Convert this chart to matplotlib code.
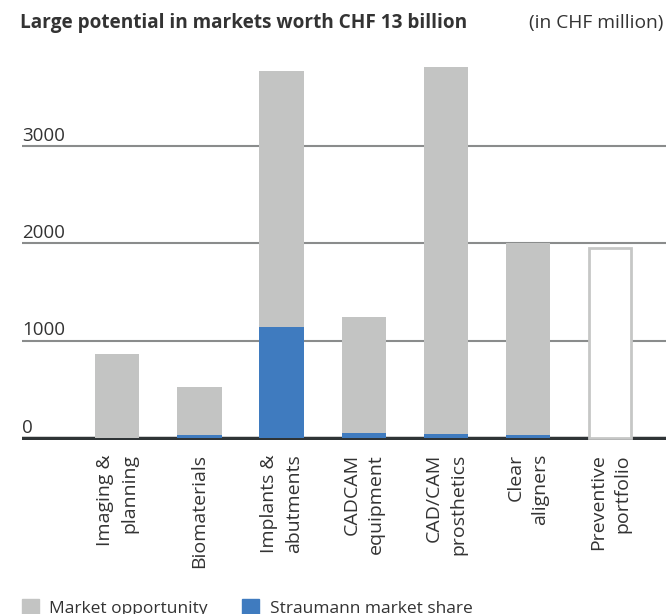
import numpy as np
import matplotlib
matplotlib.use('Agg')
from matplotlib import pyplot as plt
from matplotlib.patches import Patch

categories = ['Imaging &\nplanning', 'Biomaterials', 'Implants &\nabutments', 'CADCAM\nequipment',
              'CAD/CAM\nprosthetics', 'Clear\naligners', 'Preventive\nportfolio']
market = [865, 525, 3770, 1245, 3810, 2000, 1950]
share = [0, 35, 1145, 55, 45, 35, 0]
outline_only = [False, False, False, False, False, False, True]
yticks = [0, 1000, 2000, 3000]

grey = '#c3c4c3'
blue = '#3f7bbf'
txt = '#333333'

plt.rcParams['font.family'] = ['Open Sans', 'DejaVu Sans']

fig = plt.figure(figsize=(6.66, 6.14), dpi=100)
# zero line at y=438 px, axis top around y=58 px
ax = fig.add_axes([22/666, 1 - 440/614, 1 - 22/666, 381.5/614])

x = np.arange(len(categories))
for i in x:
    if outline_only[i]:
        ax.bar(i, market[i], width=0.52, facecolor='white', edgecolor='#c6c7c6', linewidth=2, zorder=4)
    else:
        ax.bar(i, market[i], width=0.54, color=grey, zorder=3)
        if share[i] > 0:
            ax.bar(i, share[i], width=0.54, color=blue, zorder=3)

for v in yticks[1:]:
    ax.axhline(v, color='#8a8c8c', lw=1.5, zorder=1)
ax.axhline(0, color='#2f3436', lw=2.5, zorder=2)
for v in yticks:
    ax.text(0, v + 55, str(v), transform=ax.get_yaxis_transform(), fontsize=13.5,
            color=txt, ha='left', va='baseline')

ax.set_xlim(-1.16, 6.68)
ax.set_ylim(-20, 3900)
ax.set_yticks([])
ax.set_xticks(x)
ax.set_xticklabels(categories, rotation=90, ha='center', va='top', multialignment='right',
                   fontsize=14, color=txt, linespacing=1.45)
ax.tick_params(axis='x', length=0, pad=10)
for s in ax.spines.values():
    s.set_visible(False)

fig.text(20/666, 1 - 28/614, 'Large potential in markets worth CHF 13 billion', fontsize=13.7,
         fontweight='bold', color=txt, ha='left', va='baseline')
fig.text(663/666, 1 - 28/614, '(in CHF million)', fontsize=13.8, color=txt, ha='right', va='baseline')

handles = [Patch(color=grey, label='Market opportunity'), Patch(color=blue, label='Straumann market share')]
fig.legend(handles=handles, loc='lower left', bbox_to_anchor=(0.009, -0.03), ncol=2, frameon=False,
           fontsize=12.5, handlelength=1.0, handleheight=1.0, columnspacing=1.95, handletextpad=0.6,
           labelcolor=txt)

plt.savefig('out.png', dpi=100)
